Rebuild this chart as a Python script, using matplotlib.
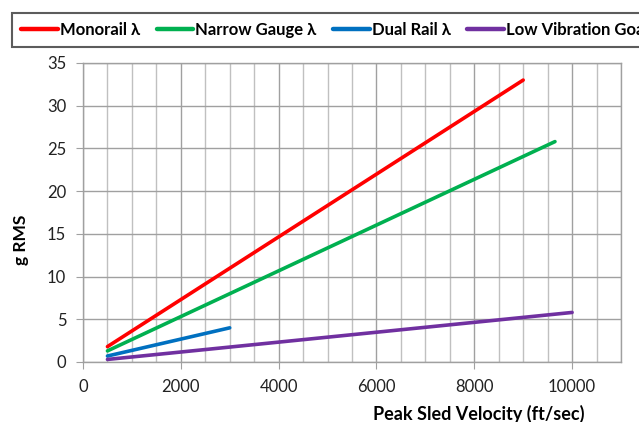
import matplotlib
matplotlib.use("Agg")
import matplotlib.pyplot as plt
from matplotlib.ticker import MultipleLocator

plt.rcParams['font.family'] = ['Lato', 'DejaVu Sans']

series_names = ["Monorail λ", "Narrow Gauge λ", "Dual Rail λ", "Low Vibration Goal"]
series_colors = ["#FF0000", "#00B050", "#0070C0", "#7030A0"]
monorail_v = [500, 9000]
monorail_g = [1.8, 33.0]
narrow_v = [500, 9650]
narrow_g = [1.3, 25.8]
dual_v = [500, 3000]
dual_g = [0.7, 4.0]
lowvib_v = [500, 10000]
lowvib_g = [0.3, 5.8]

fig = plt.figure(figsize=(6.39, 4.22), dpi=100)
L, R, T, B = 83, 621, 63, 362
ax = fig.add_axes([L/639, 1-B/422, (R-L)/639, (B-T)/422])

data = [(monorail_v, monorail_g), (narrow_v, narrow_g), (dual_v, dual_g), (lowvib_v, lowvib_g)]
handles = []
for (v, g), name, c in zip(data, series_names, series_colors):
    h, = ax.plot(v, g, color=c, lw=2.6, solid_capstyle='round', label=name, zorder=3)
    handles.append(h)

ax.set_xlim(0, 11000)
ax.set_ylim(0, 35)
ax.xaxis.set_major_locator(MultipleLocator(2000))
ax.xaxis.set_minor_locator(MultipleLocator(500))
ax.yaxis.set_major_locator(MultipleLocator(5))
ax.grid(which='minor', axis='x', color='#C0C0C0', lw=1.0, zorder=0)
ax.grid(which='major', axis='x', color='#A0A0A0', lw=1.0, zorder=0)
ax.grid(which='major', axis='y', color='#A0A0A0', lw=1.0, zorder=0)
ax.set_axisbelow(True)
for s in ax.spines.values():
    s.set_color('#A0A0A0')
    s.set_linewidth(1.0)
ax.tick_params(axis='both', which='major', direction='out', length=5, color='#A0A0A0',
               labelsize=12, labelcolor='#222222', pad=7)
ax.tick_params(axis='x', which='minor', length=0)

ax.set_xlabel("Peak Sled Velocity (ft/sec)", fontsize=13, fontweight='bold')
ax.xaxis.set_label_coords((479-L)/(R-L), -(405-B)/(B-T), transform=ax.transAxes)
ax.set_ylabel("g RMS", fontsize=12.5, fontweight='bold')
ax.yaxis.set_label_coords(-(L-29)/(R-L), (B-240)/(B-T), transform=ax.transAxes)

leg = fig.legend(handles=handles, loc='upper left', bbox_to_anchor=(12/639, 1-13/422),
                 ncol=4, frameon=True, fancybox=False,
                 prop={'weight': 'bold', 'size': 12},
                 handlelength=2.2, handletextpad=0.12, columnspacing=1.0,
                 borderpad=0.55, edgecolor='#333333', borderaxespad=0)
leg.get_frame().set_linewidth(1.5)
for line in leg.get_lines():
    line.set_linewidth(3.2)

fig.savefig("out.png", dpi=100)
